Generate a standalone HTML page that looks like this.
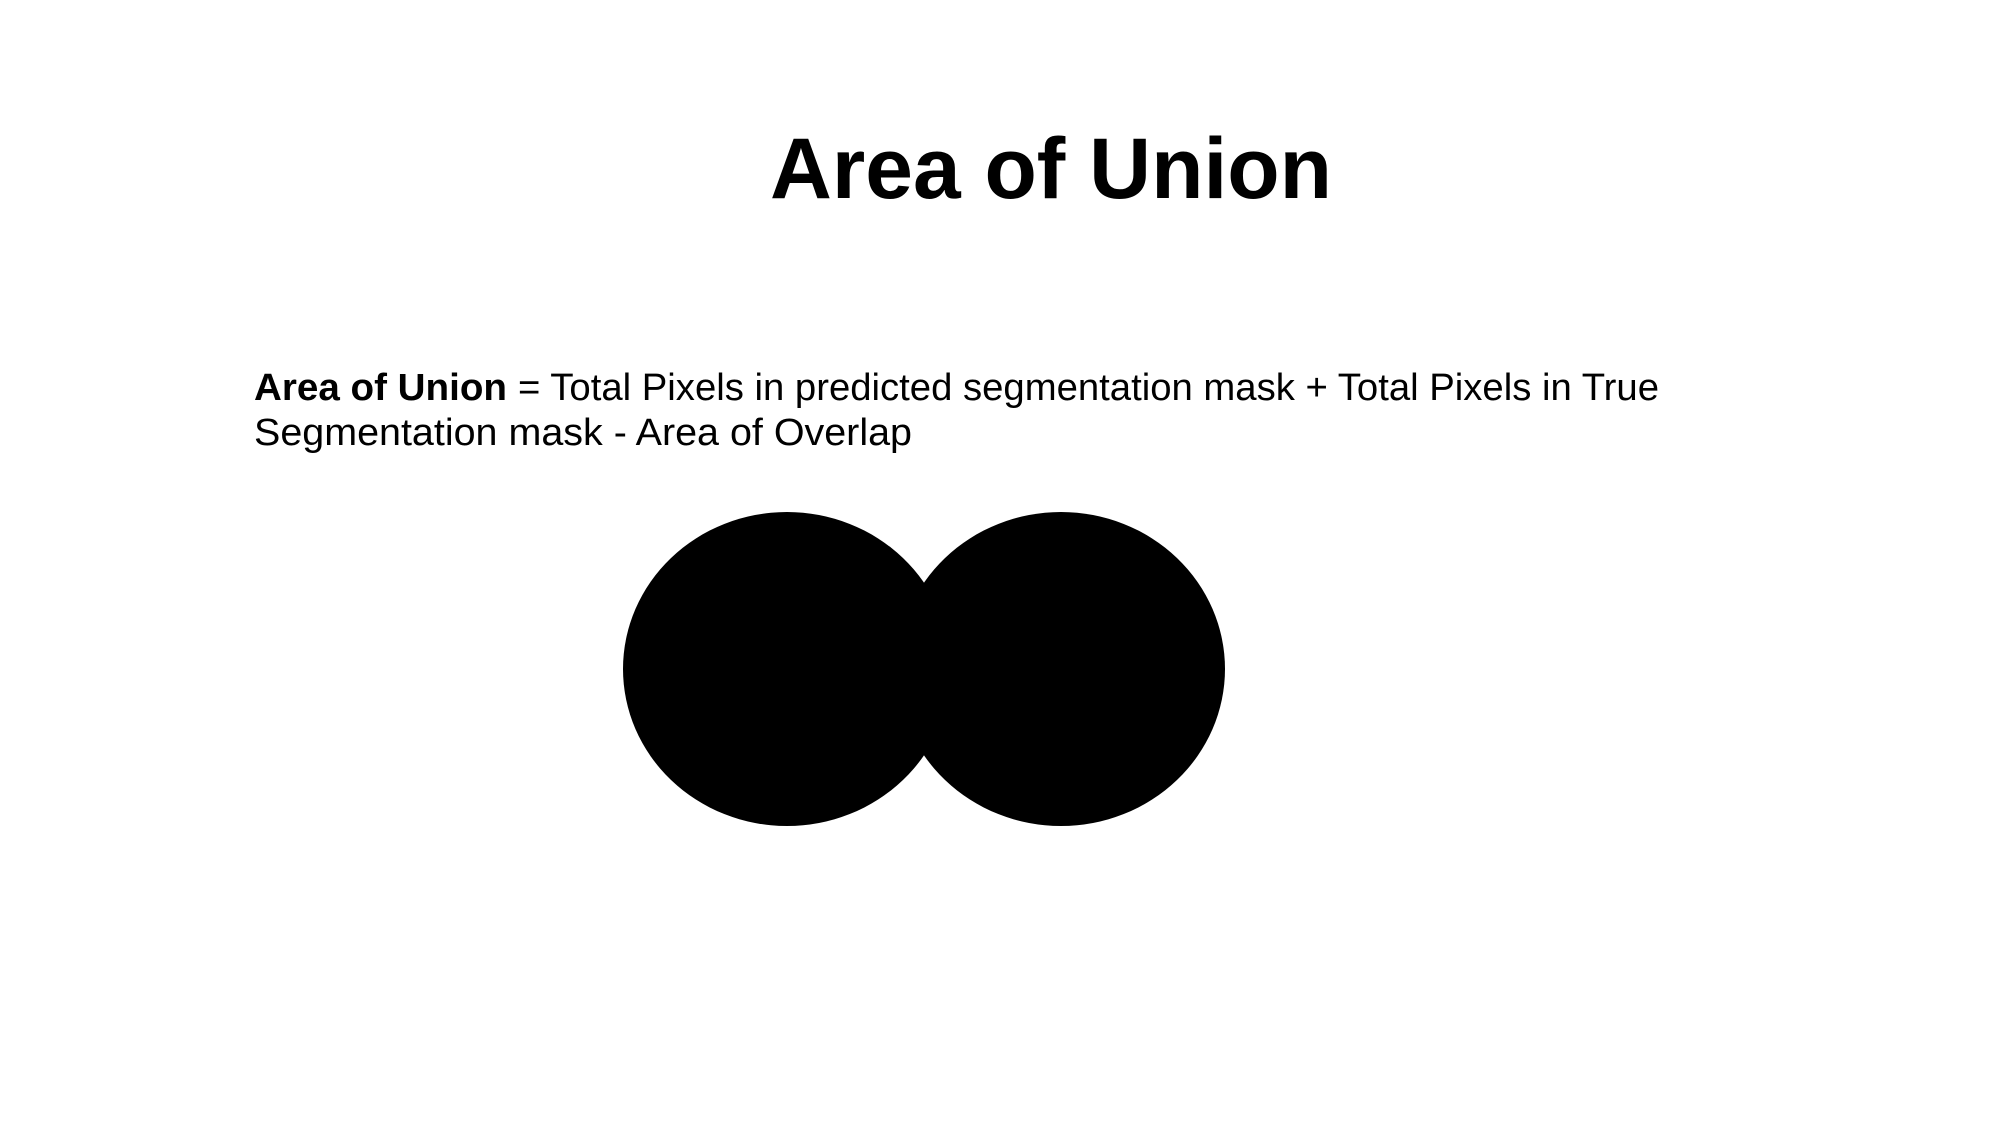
<!DOCTYPE html>
<html><head><meta charset="utf-8"><style>
html,body{margin:0;padding:0;background:#fff;}
svg{display:block;}
text{font-family:"Liberation Sans",sans-serif;fill:#000;}
</style></head><body>
<svg width="2000" height="1125" viewBox="0 0 2000 1125">
  <rect width="2000" height="1125" fill="#fff"/>
  <text x="770" y="198" font-size="86" font-weight="bold" textLength="562" lengthAdjust="spacingAndGlyphs">Area of Union</text>
  <text y="400" font-size="38"><tspan x="254" font-weight="bold" textLength="253" lengthAdjust="spacingAndGlyphs">Area of Union</tspan><tspan x="518" textLength="1141" lengthAdjust="spacingAndGlyphs">= Total Pixels in predicted segmentation mask + Total Pixels in True</tspan></text>
  <text x="254" y="445" font-size="38" textLength="658" lengthAdjust="spacingAndGlyphs">Segmentation mask - Area of Overlap</text>
  <ellipse cx="787" cy="669" rx="164" ry="157" fill="#000"/>
  <ellipse cx="1061" cy="669" rx="164" ry="157" fill="#000"/>
</svg>
</body></html>
